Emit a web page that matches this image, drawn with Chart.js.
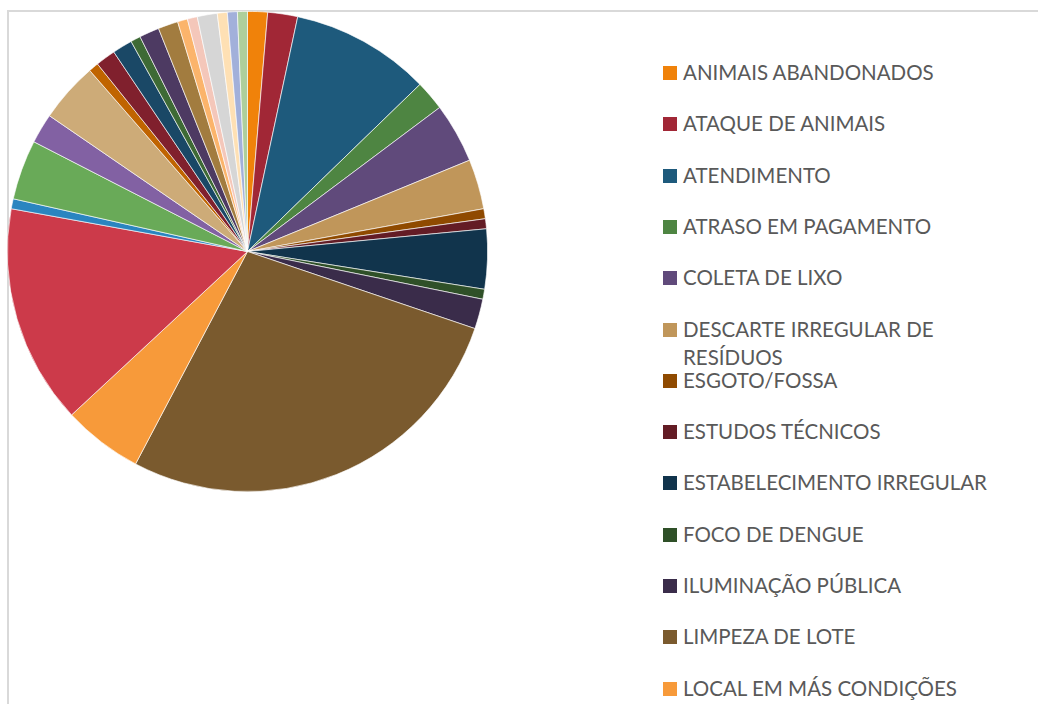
<!DOCTYPE html>
<html>
<head>
<meta charset="utf-8">
<script src="https://cdn.jsdelivr.net/npm/chart.js@4.4.1/dist/chart.umd.min.js"></script>
<style>
    html, body { margin: 0; padding: 0; background: #fff; }
    body { width: 1038px; height: 704px; position: relative; overflow: hidden; font-family: Lato, "Noto Sans", sans-serif; }
    #frame { position: absolute; left: 7px; top: 10px; width: 1100px; height: 800px; border-top: 2px solid #d9d9d9; border-left: 2px solid #d9d9d9; }
    #pieBox { position: absolute; left: 7px; top: 11px; width: 481px; height: 481px; }
    #legend { position: absolute; left: 0; top: 0; }
    .item { position: absolute; left: 663px; height: 28px; }
    .item .sw { position: absolute; left: 0; top: 7px; width: 14px; height: 14px; }
    .item .tx { position: absolute; left: 20px; top: -1px; width: 320px; font-size: 20.5px; line-height: 28px; color: #595959; }
</style>
</head>
<body>
<div id="frame"></div>
<div id="pieBox"><canvas id="pie"></canvas></div>
<div id="legend"></div>
<script>
// categories in the order drawn (clockwise from 12 o'clock); only the first 13 show in the legend
const categories = [
    'ANIMAIS ABANDONADOS', 'ATAQUE DE ANIMAIS', 'ATENDIMENTO', 'ATRASO EM PAGAMENTO',
    'COLETA DE LIXO', 'DESCARTE IRREGULAR DE RESÍDUOS', 'ESGOTO/FOSSA', 'ESTUDOS TÉCNICOS',
    'ESTABELECIMENTO IRREGULAR', 'FOCO DE DENGUE', 'ILUMINAÇÃO PÚBLICA', 'LIMPEZA DE LOTE',
    'LOCAL EM MÁS CONDIÇÕES',
    'CATEGORIA 14', 'CATEGORIA 15', 'CATEGORIA 16', 'CATEGORIA 17', 'CATEGORIA 18',
    'CATEGORIA 19', 'CATEGORIA 20', 'CATEGORIA 21', 'CATEGORIA 22', 'CATEGORIA 23',
    'CATEGORIA 24', 'CATEGORIA 25', 'CATEGORIA 26', 'CATEGORIA 27', 'CATEGORIA 28',
    'CATEGORIA 29', 'CATEGORIA 30'
];
const counts = [
    2, 3, 14, 3, 6, 5, 1, 1, 6, 1, 3, 41, 8,
    22, 1, 6, 3, 6, 1, 2, 2, 1, 2, 2, 1, 1, 2, 1, 1, 1
];
const colors = [
    '#f0820a', '#a12736', '#1e5a7c', '#4e8542', '#604a7b', '#c0965a', '#8f4a00', '#631c25',
    '#11344c', '#2f5028', '#3a2c4a', '#7a5a2e', '#f79a3a',
    '#cc3a4a', '#2a85c0', '#69aa58', '#8261a3', '#cdab78', '#c06400', '#80202d',
    '#1a4866', '#3e6a35', '#4d3a62', '#a27c3f', '#fbb46b', '#f4c7ba', '#d6d6d6',
    '#fee0b4', '#a2b0da', '#aecf9c'
];
const legendShown = 13;

new Chart(document.getElementById('pie').getContext('2d'), {
    type: 'pie',
    data: {
        labels: categories,
        datasets: [{
            data: counts,
            backgroundColor: colors,
            borderColor: 'rgba(255,255,255,0.85)',
            borderWidth: 0.75,
        }]
    },
    options: {
        animation: false,
        maintainAspectRatio: false,
        layout: { padding: 0 },
        plugins: {
            legend: { display: false },
            tooltip: { enabled: true },
        }
    }
});

// legend, rows every 51.3px starting at y=73
const legend = document.getElementById('legend');
for (let i = 0; i < legendShown; i++) {
    const item = document.createElement('div');
    item.className = 'item';
    item.style.top = (73 + i * 51.3 - 14) + 'px';
    const sw = document.createElement('div');
    sw.className = 'sw';
    sw.style.background = colors[i];
    const tx = document.createElement('div');
    tx.className = 'tx';
    tx.textContent = categories[i];
    item.appendChild(sw);
    item.appendChild(tx);
    legend.appendChild(item);
}
</script>
</body>
</html>
